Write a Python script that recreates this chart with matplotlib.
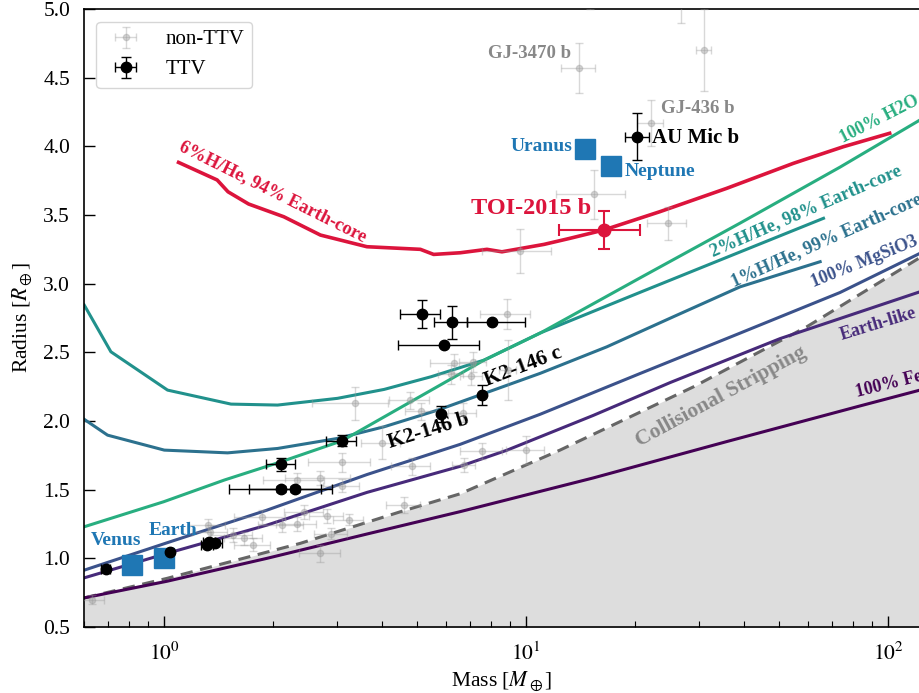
import numpy as np
import matplotlib
matplotlib.use('Agg')
import matplotlib.pyplot as plt

plt.rcParams['font.family'] = ['Liberation Serif', 'DejaVu Serif']
plt.rcParams['mathtext.fontset'] = 'stix'

# ---------------- model curves (mass [M_E], radius [R_E]) ----------------
fe_m = [0.601, 1.017, 1.922, 3.63, 6.57, 15.3, 35.8, 83.7, 122.5]
fe_r = [0.712, 0.833, 1.000, 1.177, 1.340, 1.585, 1.850, 2.110, 2.225]

earth_m = [0.601, 1.017, 1.922, 3.63, 6.57, 8.84, 15.3, 25.0, 50.3, 122.5]
earth_r = [0.858, 1.036, 1.242, 1.480, 1.670, 1.787, 2.040, 2.280, 2.600, 2.941]

mgsio3_m = [0.601, 1.017, 1.922, 3.63, 6.57, 10.93, 20.6, 39.0, 73.7, 122.5]
mgsio3_r = [0.914, 1.113, 1.351, 1.610, 1.830, 2.049, 2.345, 2.640, 2.936, 3.221]

hhe1_m = [0.601, 0.697, 1.0, 1.496, 2.056, 3.01, 4.05, 5.69, 7.66, 10.93, 16.7, 25.5, 39.0, 64.9]
hhe1_r = [2.012, 1.897, 1.788, 1.768, 1.800, 1.873, 1.958, 2.079, 2.201, 2.347, 2.540, 2.759, 2.977, 3.160]

hhe2_m = [0.601, 0.712, 1.021, 1.529, 2.056, 3.01, 4.05, 5.455, 7.66, 10.93, 20.6, 39.0, 66.3]
hhe2_r = [2.844, 2.504, 2.225, 2.123, 2.116, 2.165, 2.230, 2.322, 2.444, 2.641, 2.936, 3.231, 3.476]

h2o_m = [0.601, 0.996, 1.465, 2.09, 3.10, 4.49, 7.66, 10.93, 20.6, 39.0, 73.7, 122.5]
h2o_r = [1.230, 1.412, 1.570, 1.701, 1.856, 2.097, 2.444, 2.640, 3.041, 3.441, 3.849, 4.192]

hhe6_m = [1.095, 1.40, 1.50, 1.71, 2.14, 2.70, 3.63, 5.10, 5.55, 6.57, 7.79, 8.57,
          11.2, 13.2, 16.35, 23.4, 35.8, 54.7, 75.2, 101.0]
hhe6_r = [3.883, 3.755, 3.669, 3.580, 3.487, 3.354, 3.269, 3.250, 3.213, 3.225, 3.250, 3.232,
          3.286, 3.330, 3.390, 3.524, 3.694, 3.876, 3.997, 4.095]

cs_m = [0.601, 1.017, 2.375, 4.49, 6.57, 12.4, 29.0, 59.6, 122.5]
cs_r = [0.712, 0.854, 1.109, 1.339, 1.470, 1.788, 2.249, 2.686, 3.190]

# ---------------- planets ----------------
# non-TTV: mass, radius, mass error, radius error
ntv_m = [13.98, 31.0, 26.8, 15.0, 22.1, 15.4, 24.6, 9.64, 8.84, 6.32, 7.12, 7.06, 6.2,
         4.78, 5.12, 6.67, 3.36, 3.99, 3.10, 2.70, 3.10, 2.32, 4.6, 2.44, 2.33, 2.81,
         3.23, 2.89, 2.70, 1.86, 1.76, 1.66, 1.55, 2.11, 1.34, 4.83, 7.55, 10.0, 6.72,
         0.631, 8.9, 1.32]
ntv_r = [4.57, 4.70, 5.15, 5.20, 4.17, 3.65, 3.44, 3.24, 2.78, 2.42, 2.43, 2.33, 2.34,
         2.15, 2.07, 2.06, 2.13, 1.84, 1.70, 1.585, 1.53, 1.57, 1.39, 1.34, 1.25, 1.31,
         1.28, 1.18, 1.036, 1.30, 1.10, 1.145, 1.17, 1.24, 1.19, 1.67, 1.78, 1.79, 1.68,
         0.70, 2.37, 1.24]
ntv_me = [1.5, 1.5, 1.3, 1.0, 1.8, 3.3, 3.0, 2.1, 1.4, 0.9, 0.6, 0.5, 0.5,
          0.6, 0.5, 0.6, 0.8, 0.5, 0.6, 0.55, 0.35, 0.45, 0.5, 0.3, 0.3, 0.3,
          0.3, 0.3, 0.35, 0.3, 0.2, 0.2, 0.2, 0.3, 0.15, 0.6, 1.0, 1.2, 0.5,
          0.05, 0.5, 0.15]
ntv_re = [0.18, 0.3, 0.25, 0.2, 0.17, 0.18, 0.12, 0.16, 0.11, 0.07, 0.07, 0.07, 0.07,
          0.06, 0.06, 0.07, 0.12, 0.12, 0.07, 0.05, 0.05, 0.05, 0.06, 0.05, 0.05, 0.05,
          0.04, 0.04, 0.06, 0.05, 0.05, 0.05, 0.05, 0.05, 0.05, 0.06, 0.06, 0.1, 0.05,
          0.03, 0.22, 0.05]

# TTV: mass, radius, mass err low, mass err high, radius err
ttv_m = [20.2, 5.14, 6.22, 8.05, 5.92, 7.55, 5.8, 3.1, 2.10, 2.10, 2.30, 1.33, 1.31, 1.38, 1.04, 0.69]
ttv_r = [4.07, 2.78, 2.72, 2.72, 2.55, 2.19, 2.05, 1.856, 1.684, 1.506, 1.506, 1.12, 1.10, 1.115, 1.043, 0.92]
ttv_mlo = [1.5, 0.65, 0.67, 1.2, 1.5, 0.1, 0.07, 0.3, 0.19, 0.59, 0.59, 0.05, 0.05, 0.06, 0.01, 0.02]
ttv_mhi = [1.6, 0.64, 0.64, 1.9, 1.5, 0.1, 0.07, 0.29, 0.2, 0.61, 0.61, 0.05, 0.05, 0.06, 0.01, 0.02]
ttv_re = [0.17, 0.1, 0.12, 0.0, 0.0, 0.07, 0.06, 0.04, 0.05, 0.02, 0.02, 0.02, 0.02, 0.02, 0.01, 0.01]

# TOI-2015 b
toi_m, toi_r = 16.4, 3.39
toi_mlo, toi_mhi, toi_re = 4.1, 4.2, 0.14

# Solar system
ss_names = ['Venus', 'Earth', 'Uranus', 'Neptune']
ss_m = [0.815, 1.0, 14.54, 17.15]
ss_r = [0.949, 1.0, 3.98, 3.86]

# ---------------- figure ----------------
fig = plt.figure(figsize=(9.2, 6.93), dpi=100)
ax = fig.add_axes([84/920, 1 - 627/693, 1 - 84/920, (627 - 9)/693])
ax.set_xscale('log')
ax.set_xlim(0.6, 122.5)
ax.set_ylim(0.5, 5.0)

c_fe = '#440154'
c_earth = '#472a7a'
c_mg = '#3b528b'
c_h1 = '#2c718e'
c_h2 = '#21918c'
c_h2o = '#28ae80'
c_red = '#dc143c'
c_blue = '#1f77b4'

ax.fill_between(cs_m, cs_r, 0.0, color='#dddddd', zorder=0, lw=0)
ax.plot(cs_m, cs_r, ls=(0, (4, 2.5)), color='#666666', lw=2.2, zorder=2)
ax.plot(fe_m, fe_r, color=c_fe, lw=2.2, zorder=2)
ax.plot(earth_m, earth_r, color=c_earth, lw=2.2, zorder=2)
ax.plot(mgsio3_m, mgsio3_r, color=c_mg, lw=2.2, zorder=2)
ax.plot(hhe1_m, hhe1_r, color=c_h1, lw=2.2, zorder=2)
ax.plot(hhe2_m, hhe2_r, color=c_h2, lw=2.2, zorder=2)
ax.plot(h2o_m, h2o_r, color=c_h2o, lw=2.2, zorder=2)
ax.plot(hhe6_m, hhe6_r, color=c_red, lw=2.6, zorder=2)

bold = dict(fontweight='bold', rotation_mode='anchor')
ax.text(2.0, 3.668, '6%H/He, 94% Earth-core', color=c_red, fontsize=13.3, rotation=-26.5,
        ha='center', va='center', **bold)
ax.text(32.9, 3.196, '2%H/He, 98% Earth-core', color=c_h2, fontsize=13.3, rotation=23.5,
        ha='left', va='baseline', **bold)
ax.text(37.4, 2.977, '1%H/He, 99% Earth-core', color=c_h1, fontsize=13.3, rotation=24,
        ha='left', va='baseline', **bold)
ax.text(62.2, 2.977, '100% MgSiO3', color=c_mg, fontsize=13, rotation=22,
        ha='left', va='baseline', **bold)
ax.text(74.5, 2.589, 'Earth-like', color=c_earth, fontsize=13, rotation=17,
        ha='left', va='baseline', **bold)
ax.text(81.9, 2.176, '100% Fe', color=c_fe, fontsize=13, rotation=14,
        ha='left', va='baseline', **bold)
ax.text(75.2, 4.022, '100% H2O', color=c_h2o, fontsize=13, rotation=27,
        ha='left', va='baseline', **bold)
ax.text(20.6, 1.812, 'Collisional Stripping', color='#888888', fontsize=15.5, rotation=28.5,
        ha='left', va='baseline', **bold)

# non-TTV
ax.errorbar(ntv_m, ntv_r, xerr=ntv_me, yerr=ntv_re, fmt='o', ms=4.5, color='#999999',
            alpha=0.38, capsize=3, elinewidth=1, zorder=3, label='non-TTV')
# TTV
ax.errorbar(ttv_m, ttv_r, xerr=[ttv_mlo, ttv_mhi], yerr=ttv_re, fmt='o', ms=7.5,
            color='black', capsize=3.5, elinewidth=1, capthick=1, zorder=5, label='TTV')
# TOI-2015 b
ax.errorbar([toi_m], [toi_r], xerr=[[toi_mlo], [toi_mhi]], yerr=[toi_re], fmt='o', ms=9,
            color=c_red, capsize=4, elinewidth=1.5, capthick=1.5, zorder=6)
# Solar system
ax.plot(ss_m, ss_r, 's', ms=15, color=c_blue, zorder=4, ls='none')

# planet labels
ax.text(13.3, 4.677, 'GJ-3470 b', color='#888888', fontsize=13.5, fontweight='bold',
        ha='right', va='center')
ax.text(23.6, 4.274, 'GJ-436 b', color='#888888', fontsize=13.5, fontweight='bold',
        ha='left', va='center')
ax.text(22.2, 4.058, 'AU Mic b', color='black', fontsize=15, fontweight='bold',
        ha='left', va='center')
ax.text(13.4, 3.997, 'Uranus', color=c_blue, fontsize=14, fontweight='bold',
        ha='right', va='center')
ax.text(18.7, 3.815, 'Neptune', color=c_blue, fontsize=14, fontweight='bold',
        ha='left', va='center')
ax.text(15.1, 3.548, 'TOI-2015 b', color=c_red, fontsize=17.5, fontweight='bold',
        ha='right', va='center')
ax.text(0.627, 1.133, 'Venus', color=c_blue, fontsize=14, fontweight='bold',
        ha='left', va='center')
ax.text(0.905, 1.205, 'Earth', color=c_blue, fontsize=14, fontweight='bold',
        ha='left', va='center')
ax.text(7.79, 2.255, 'K2-146 c', color='black', fontsize=15.5, rotation=21,
        ha='left', va='baseline', **bold)
ax.text(4.21, 1.806, 'K2-146 b', color='black', fontsize=15.5, rotation=17,
        ha='left', va='baseline', **bold)

# axes styling
ax.spines['right'].set_visible(False)
ax.tick_params(which='both', direction='in', top=False, right=False, labelsize=15.5)
ax.tick_params(axis='y', which='both', pad=10)
ax.tick_params(axis='x', which='both', pad=11)
ax.tick_params(which='major', length=8, width=1)
ax.tick_params(which='minor', length=4.5, width=0.8)
ax.set_yticks(np.arange(0.5, 5.01, 0.5))
ax.set_yticklabels(['%.1f' % v for v in np.arange(0.5, 5.01, 0.5)])
ax.set_xticks([1, 10, 100])
ax.set_xticklabels([r'$10^0$', r'$10^1$', r'$10^2$'])
for s in ['left', 'bottom', 'top']:
    ax.spines[s].set_linewidth(1.2)
ax.set_xlabel(r'Mass [$M_\oplus$]', fontsize=15.5, labelpad=4)
ax.set_ylabel(r'Radius [$R_\oplus$]', fontsize=15.5, labelpad=6)

leg = ax.legend(loc='upper left', fontsize=15, frameon=True, fancybox=True,
                edgecolor='#cccccc', framealpha=0.8, borderaxespad=0.6,
                handlelength=2.0, handletextpad=0.9)

fig.savefig('out.png', dpi=100)
